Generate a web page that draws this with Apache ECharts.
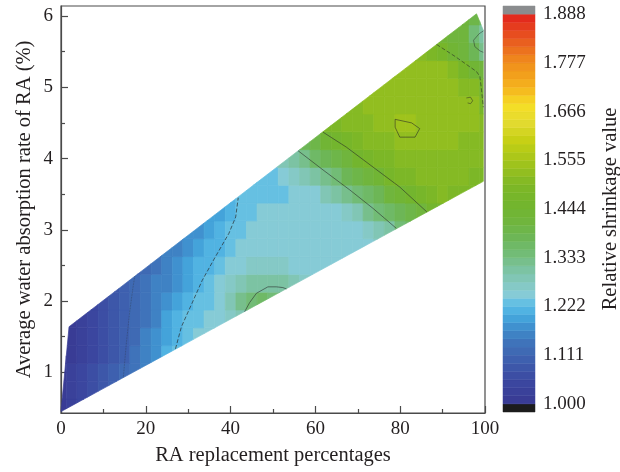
<!DOCTYPE html>
<html>
<head>
<meta charset="utf-8">
<script src="https://cdn.jsdelivr.net/npm/echarts@6/dist/echarts.min.js"></script>
<style>html,body{margin:0;padding:0;background:#fff}#chart{width:620px;height:472px}</style>
</head>
<body>
<div id="chart"></div>
<script>
// ---------------- data ----------------
const xTicks = [0, 20, 40, 60, 80, 100];
const yTicks = [1, 2, 3, 4, 5, 6];
const yMinorTicks = [0.5, 1.5, 2.5, 3.5, 4.5, 5.5];
const barTicks = [1.000, 1.111, 1.222, 1.333, 1.444, 1.555, 1.666, 1.777, 1.888];

// cell centres of the value grid
const gridX = [0, 2.5, 5, 7.5, 10, 12.5, 15, 17.5, 20, 22.5, 25, 27.5, 30, 32.5, 35, 37.5, 40, 42.5, 45, 47.5,
               50, 52.5, 55, 57.5, 60, 62.5, 65, 67.5, 70, 72.5, 75, 77.5, 80, 82.5, 85, 87.5, 90, 92.5, 95, 97.5, 100];
const gridY = [0.5, 0.75, 1.0, 1.25, 1.5, 1.75, 2.0, 2.25, 2.5, 2.75, 3.0, 3.25, 3.5, 3.75, 4.0, 4.25, 4.5, 4.75, 5.0, 5.25, 5.5, 5.75, 6.0];
// first x of each row, then relative shrinkage values along the row
const rowStartX = [0, 0, 0, 0, 0, 2.5, 7.5, 12.5, 17.5, 22.5, 30, 35, 40, 45, 50, 55, 62.5, 67.5, 72.5, 77.5, 82.5, 90, 95];
const shrinkRows = [
  [1.000,1.020,1.040],
  [1.000,1.019,1.038,1.058,1.077,1.096],
  [1.000,1.019,1.037,1.056,1.075,1.093,1.112,1.136,1.160],
  [1.000,1.018,1.036,1.054,1.072,1.090,1.108,1.132,1.156,1.180,1.204,1.225],
  [1.000,1.018,1.035,1.053,1.070,1.088,1.105,1.127,1.150,1.173,1.196,1.219,1.231,1.242,1.247],
  [1.017,1.034,1.051,1.068,1.085,1.102,1.121,1.143,1.164,1.186,1.207,1.225,1.236,1.246,1.250,1.270,1.290,1.312],
  [1.050,1.066,1.083,1.099,1.117,1.136,1.155,1.175,1.194,1.213,1.228,1.238,1.247,1.285,1.315,1.340,1.352,1.350,1.338],
  [1.081,1.097,1.113,1.130,1.148,1.166,1.183,1.201,1.218,1.230,1.241,1.268,1.285,1.298,1.305,1.305,1.298,1.285,1.270,1.258],
  [1.110,1.126,1.141,1.157,1.173,1.189,1.204,1.220,1.231,1.242,1.257,1.261,1.264,1.264,1.260,1.256,1.250,1.249,1.248,1.248,1.248],
  [1.136,1.150,1.164,1.178,1.192,1.207,1.221,1.232,1.242,1.247,1.247,1.246,1.245,1.245,1.246,1.247,1.247,1.247,1.248,1.250,1.255,1.265],
  [1.170,1.183,1.196,1.209,1.222,1.233,1.243,1.245,1.244,1.243,1.243,1.244,1.245,1.246,1.247,1.247,1.250,1.269,1.291,1.312,1.333,1.354],
  [1.190,1.203,1.215,1.227,1.237,1.242,1.242,1.241,1.242,1.243,1.245,1.247,1.252,1.274,1.295,1.316,1.337,1.359,1.380,1.402,1.423,1.446,1.462],
  [1.215,1.225,1.235,1.240,1.240,1.240,1.241,1.244,1.257,1.279,1.300,1.321,1.343,1.364,1.386,1.408,1.430,1.455,1.479,1.496,1.501,1.499,1.496,1.490],
  [1.236,1.240,1.240,1.241,1.262,1.283,1.304,1.325,1.347,1.370,1.392,1.414,1.437,1.463,1.485,1.495,1.503,1.508,1.508,1.506,1.502,1.498,1.492],
  [1.266,1.287,1.308,1.330,1.352,1.376,1.399,1.422,1.445,1.470,1.487,1.498,1.506,1.511,1.515,1.517,1.516,1.514,1.511,1.507,1.502],
  [1.358,1.381,1.405,1.429,1.455,1.476,1.490,1.500,1.507,1.512,1.520,1.524,1.522,1.521,1.520,1.518,1.515,1.512,1.508],
  [1.482,1.495,1.504,1.511,1.516,1.520,1.530,1.548,1.550,1.535,1.525,1.524,1.522,1.521,1.519,1.517],
  [1.514,1.517,1.519,1.521,1.522,1.523,1.524,1.524,1.525,1.525,1.525,1.527,1.520,1.465],
  [1.519,1.521,1.522,1.523,1.524,1.524,1.524,1.524,1.522,1.517,1.500,1.452],
  [1.521,1.522,1.522,1.522,1.521,1.518,1.508,1.480,1.440,1.420],
  [1.520,1.515,1.498,1.465,1.430,1.410,1.380,1.330],
  [1.435,1.425,1.410,1.340,1.300],
  [1.420,1.390,1.360]
];
// outline of the measured region (convex hull), data units
const regionOutline = [[0, 0.45], [99.6, 3.68], [99.6, 5.80], [98.0, 6.03], [1.9, 1.64]];
// contour lines
const contour1111 = [[14.7,0.93],[15.4,1.40],[16.2,1.85],[17.0,2.20],[17.4,2.35]];
const contour1222 = [[27.0,1.33],[28.4,1.64],[30.9,1.97],[33.3,2.29],[36.4,2.62],[39.6,2.95],[41.2,3.18],[41.8,3.45]];
const contour1333a = [[43.3,1.85],[44.5,1.98],[46.1,2.11],[48.8,2.20],[50.8,2.20],[52.3,2.19],[53.2,2.17]];
const contour1333b = [[55.9,4.11],[61.8,3.84],[68.1,3.56],[73.6,3.30],[79.1,3.02]];
const contour1333c = [[99.6,5.79],[98.6,5.75],[97.3,5.66],[97.6,5.57],[98.8,5.51],[99.6,5.49]];
const contour1444a = [[61.8,4.37],[67.3,4.16],[73.6,3.88],[79.9,3.60],[86.3,3.25]];
const contour1444b = [[88.6,5.60],[93.0,5.43],[98.0,5.22],[98.8,5.15],[99.2,4.95],[99.6,4.72]];
const contour1555a = [[78.8,4.55],[82.7,4.50],[84.6,4.42],[83.5,4.30],[79.9,4.30],[78.8,4.44],[78.8,4.55]];
const contour1555b = [[95.6,4.85],[96.6,4.86],[97.1,4.81],[96.6,4.77],[95.9,4.78]];

// ---------------- style ----------------
const FONT = "'Liberation Serif','Times New Roman',serif";
const TEXT = '#231f20';
const AXIS = '#4a4a4a';
const paletteStops = [1.000,1.050,1.100,1.140,1.170,1.200,1.225,1.250,1.275,1.305,1.340,1.380,1.420,1.460,1.500,1.555,1.600,1.640,1.680,1.720,1.777,1.830,1.888];
const paletteColors = ['#393a92','#3b47a0','#3e5fae','#3f74ba','#3f8ccb','#45a8de','#5cbde6','#86cbd6','#84c8c0','#7cc3a3','#72bc78','#6db655','#70b53a','#74b52c','#7fb826','#a5c51a','#c6d014','#e2da30','#f5df26','#f5b41d','#f08e1c','#e8581f','#e2231d'];
const BELOW = '#1c1c1c', ABOVE = '#8a8c8e';

function hexToRgb(h){return [parseInt(h.slice(1,3),16),parseInt(h.slice(3,5),16),parseInt(h.slice(5,7),16)];}
function paletteAt(v){
  for (let i = 0; i < paletteStops.length - 1; i++) {
    if (v <= paletteStops[i+1]) {
      const t = (v - paletteStops[i]) / (paletteStops[i+1] - paletteStops[i]);
      const a = hexToRgb(paletteColors[i]), b = hexToRgb(paletteColors[i+1]);
      return 'rgb(' + a.map((c,k)=>Math.round(c + t*(b[k]-c))).join(',') + ')';
    }
  }
  return paletteColors[paletteColors.length-1];
}

// levels: 6 bands per labelled interval
const bandsPerLabel = 6;
const levelStep = (barTicks[1] - barTicks[0]) / bandsPerLabel;
const nBands = (barTicks.length - 1) * bandsPerLabel;
const barTop = barTicks[barTicks.length - 1];
const pieces = [{lt: barTicks[0], color: BELOW}];
const barData = [[barTicks[0] - levelStep, barTicks[0], barTicks[0] - levelStep / 2]];
for (let k = 0; k < nBands; k++) {
  const lo = barTicks[0] + k * levelStep, hi = lo + levelStep;
  pieces.push({gte: lo, lt: hi, color: paletteAt((lo + hi) / 2)});
  barData.push([lo, hi, (lo + hi) / 2]);
}
pieces[pieces.length - 1].lt = barTop;
pieces.push({gte: barTop, color: ABOVE});
barData.push([barTop, barTop + levelStep, barTop + levelStep / 2]);

// field data items [x, y, value]
const fieldData = [];
shrinkRows.forEach((row, r) => {
  const i0 = gridX.indexOf(rowStartX[r]);
  row.forEach((v, j) => fieldData.push([gridX[i0 + j], gridY[r], v]));
});
const halfX = (gridX[1] - gridX[0]) / 2, halfY = (gridY[1] - gridY[0]) / 2;

function clipToRegion(poly) {
  let out = poly;
  const n = regionOutline.length;
  for (let i = 0; i < n && out.length; i++) {
    const a = regionOutline[i], b = regionOutline[(i + 1) % n];
    const side = p => (b[0]-a[0])*(p[1]-a[1]) - (b[1]-a[1])*(p[0]-a[0]);
    const inp = out; out = [];
    for (let k = 0; k < inp.length; k++) {
      const p = inp[k], q = inp[(k + 1) % inp.length];
      const sp = side(p), sq = side(q);
      if (sp >= 0) out.push(p);
      if ((sp >= 0) !== (sq >= 0)) {
        const t = sp / (sp - sq);
        out.push([p[0] + t*(q[0]-p[0]), p[1] + t*(q[1]-p[1])]);
      }
    }
  }
  return out;
}

function contourSeries(points, type, opacity) {
  return {type: 'line', xAxisIndex: 0, yAxisIndex: 0, data: points, symbol: 'none', silent: true, z: 5,
    lineStyle: {color: '#262626', width: 0.8, type: type, opacity: opacity}};
}

const axisLabelStyle = {fontFamily: FONT, fontSize: 19, color: TEXT};
const nameStyle = {fontFamily: FONT, fontSize: 20.5, color: TEXT};

const option = {
  animation: false,
  textStyle: {fontFamily: FONT},
  grid: [
    {left: 61, top: 6, width: 424, height: 407, show: true, borderColor: AXIS, borderWidth: 1.2,
     backgroundColor: 'transparent', containLabel: false, outerBoundsMode: 'none'},
    {left: 503, top: 6, width: 32, height: 406, show: false, containLabel: false, outerBoundsMode: 'none'}
  ],
  xAxis: [
    {gridIndex: 0, type: 'value', min: xTicks[0], max: xTicks[xTicks.length-1], interval: xTicks[1]-xTicks[0],
     name: 'RA replacement percentages', nameLocation: 'middle', nameGap: 32, nameTextStyle: nameStyle, nameMoveOverlap: false,
     axisLine: {show: true, lineStyle: {color: AXIS, width: 1.2}},
     axisTick: {show: true, inside: true, length: 7, lineStyle: {color: AXIS, width: 1.2}},
     minorTick: {show: true, splitNumber: 2, length: 4, lineStyle: {color: AXIS, width: 1.2}},
     axisLabel: Object.assign({margin: 7}, axisLabelStyle),
     splitLine: {show: false}},
    {gridIndex: 1, type: 'value', min: 0, max: 1, show: false}
  ],
  yAxis: [
    {gridIndex: 0, type: 'value', position: 'left', min: 0.43, max: 6.14,
     name: 'Average water absorption rate of RA (%)', nameLocation: 'middle', nameGap: 26, nameTextStyle: nameStyle, nameMoveOverlap: false,
     axisLine: {show: true, lineStyle: {color: AXIS, width: 1.2}},
     axisTick: {show: true, inside: true, length: 7, customValues: yTicks, lineStyle: {color: AXIS, width: 1.2}},
     axisLabel: Object.assign({margin: 8, customValues: yTicks}, axisLabelStyle),
     splitLine: {show: false}},
    {gridIndex: 0, type: 'value', position: 'left', min: 0.43, max: 6.14,
     axisLine: {show: false},
     axisTick: {show: true, inside: true, length: 4, customValues: yMinorTicks, lineStyle: {color: AXIS, width: 1.2}},
     axisLabel: {show: false}, splitLine: {show: false}},
    {gridIndex: 1, type: 'value', position: 'right', min: barTicks[0] - levelStep, max: barTop + levelStep,
     name: 'Relative shrinkage value', nameLocation: 'middle', nameRotate: 90, nameGap: 65, nameTextStyle: nameStyle, nameMoveOverlap: false,
     axisLine: {show: false}, axisTick: {show: false},
     axisLabel: Object.assign({margin: 8, customValues: barTicks, formatter: v => v.toFixed(3)}, axisLabelStyle),
     splitLine: {show: false}}
  ],
  visualMap: {type: 'piecewise', show: false, dimension: 2, seriesIndex: [0, 1], pieces: pieces},
  series: [
    {type: 'custom', xAxisIndex: 0, yAxisIndex: 0, data: fieldData, silent: true, z: 2,
     renderItem: function (params, api) {
       const cx = api.value(0), cy = api.value(1);
       const poly = clipToRegion([[cx-halfX, cy-halfY], [cx+halfX, cy-halfY], [cx+halfX, cy+halfY], [cx-halfX, cy+halfY]]);
       if (poly.length < 3) return null;
       const c = api.visual('color');
       return {type: 'polygon', shape: {points: poly.map(p => api.coord(p))},
               style: {fill: c, stroke: c, lineWidth: 0.7}};
     }},
    {type: 'custom', xAxisIndex: 1, yAxisIndex: 2, data: barData, silent: true,
     renderItem: function (params, api) {
       const p0 = api.coord([0, api.value(0)]), p1 = api.coord([1, api.value(1)]);
       const c = api.visual('color');
       return {type: 'rect', shape: {x: p0[0], y: p1[1], width: p1[0]-p0[0], height: p0[1]-p1[1]},
               style: {fill: c, stroke: c, lineWidth: 0.5}};
     }},
    contourSeries(contour1111, 'dotted', 0.45),
    contourSeries(contour1222, [4, 2], 0.85),
    contourSeries(contour1333a, 'solid', 0.7),
    contourSeries(contour1333b, 'solid', 0.7),
    contourSeries(contour1333c, 'solid', 0.6),
    contourSeries(contour1444a, 'solid', 0.7),
    contourSeries(contour1444b, [4, 2], 0.7),
    contourSeries(contour1555a, 'solid', 0.7),
    contourSeries(contour1555b, 'solid', 0.6)
  ]
};

const chart = echarts.init(document.getElementById('chart'), null, {renderer: 'canvas'});
chart.setOption(option);
</script>
</body>
</html>
